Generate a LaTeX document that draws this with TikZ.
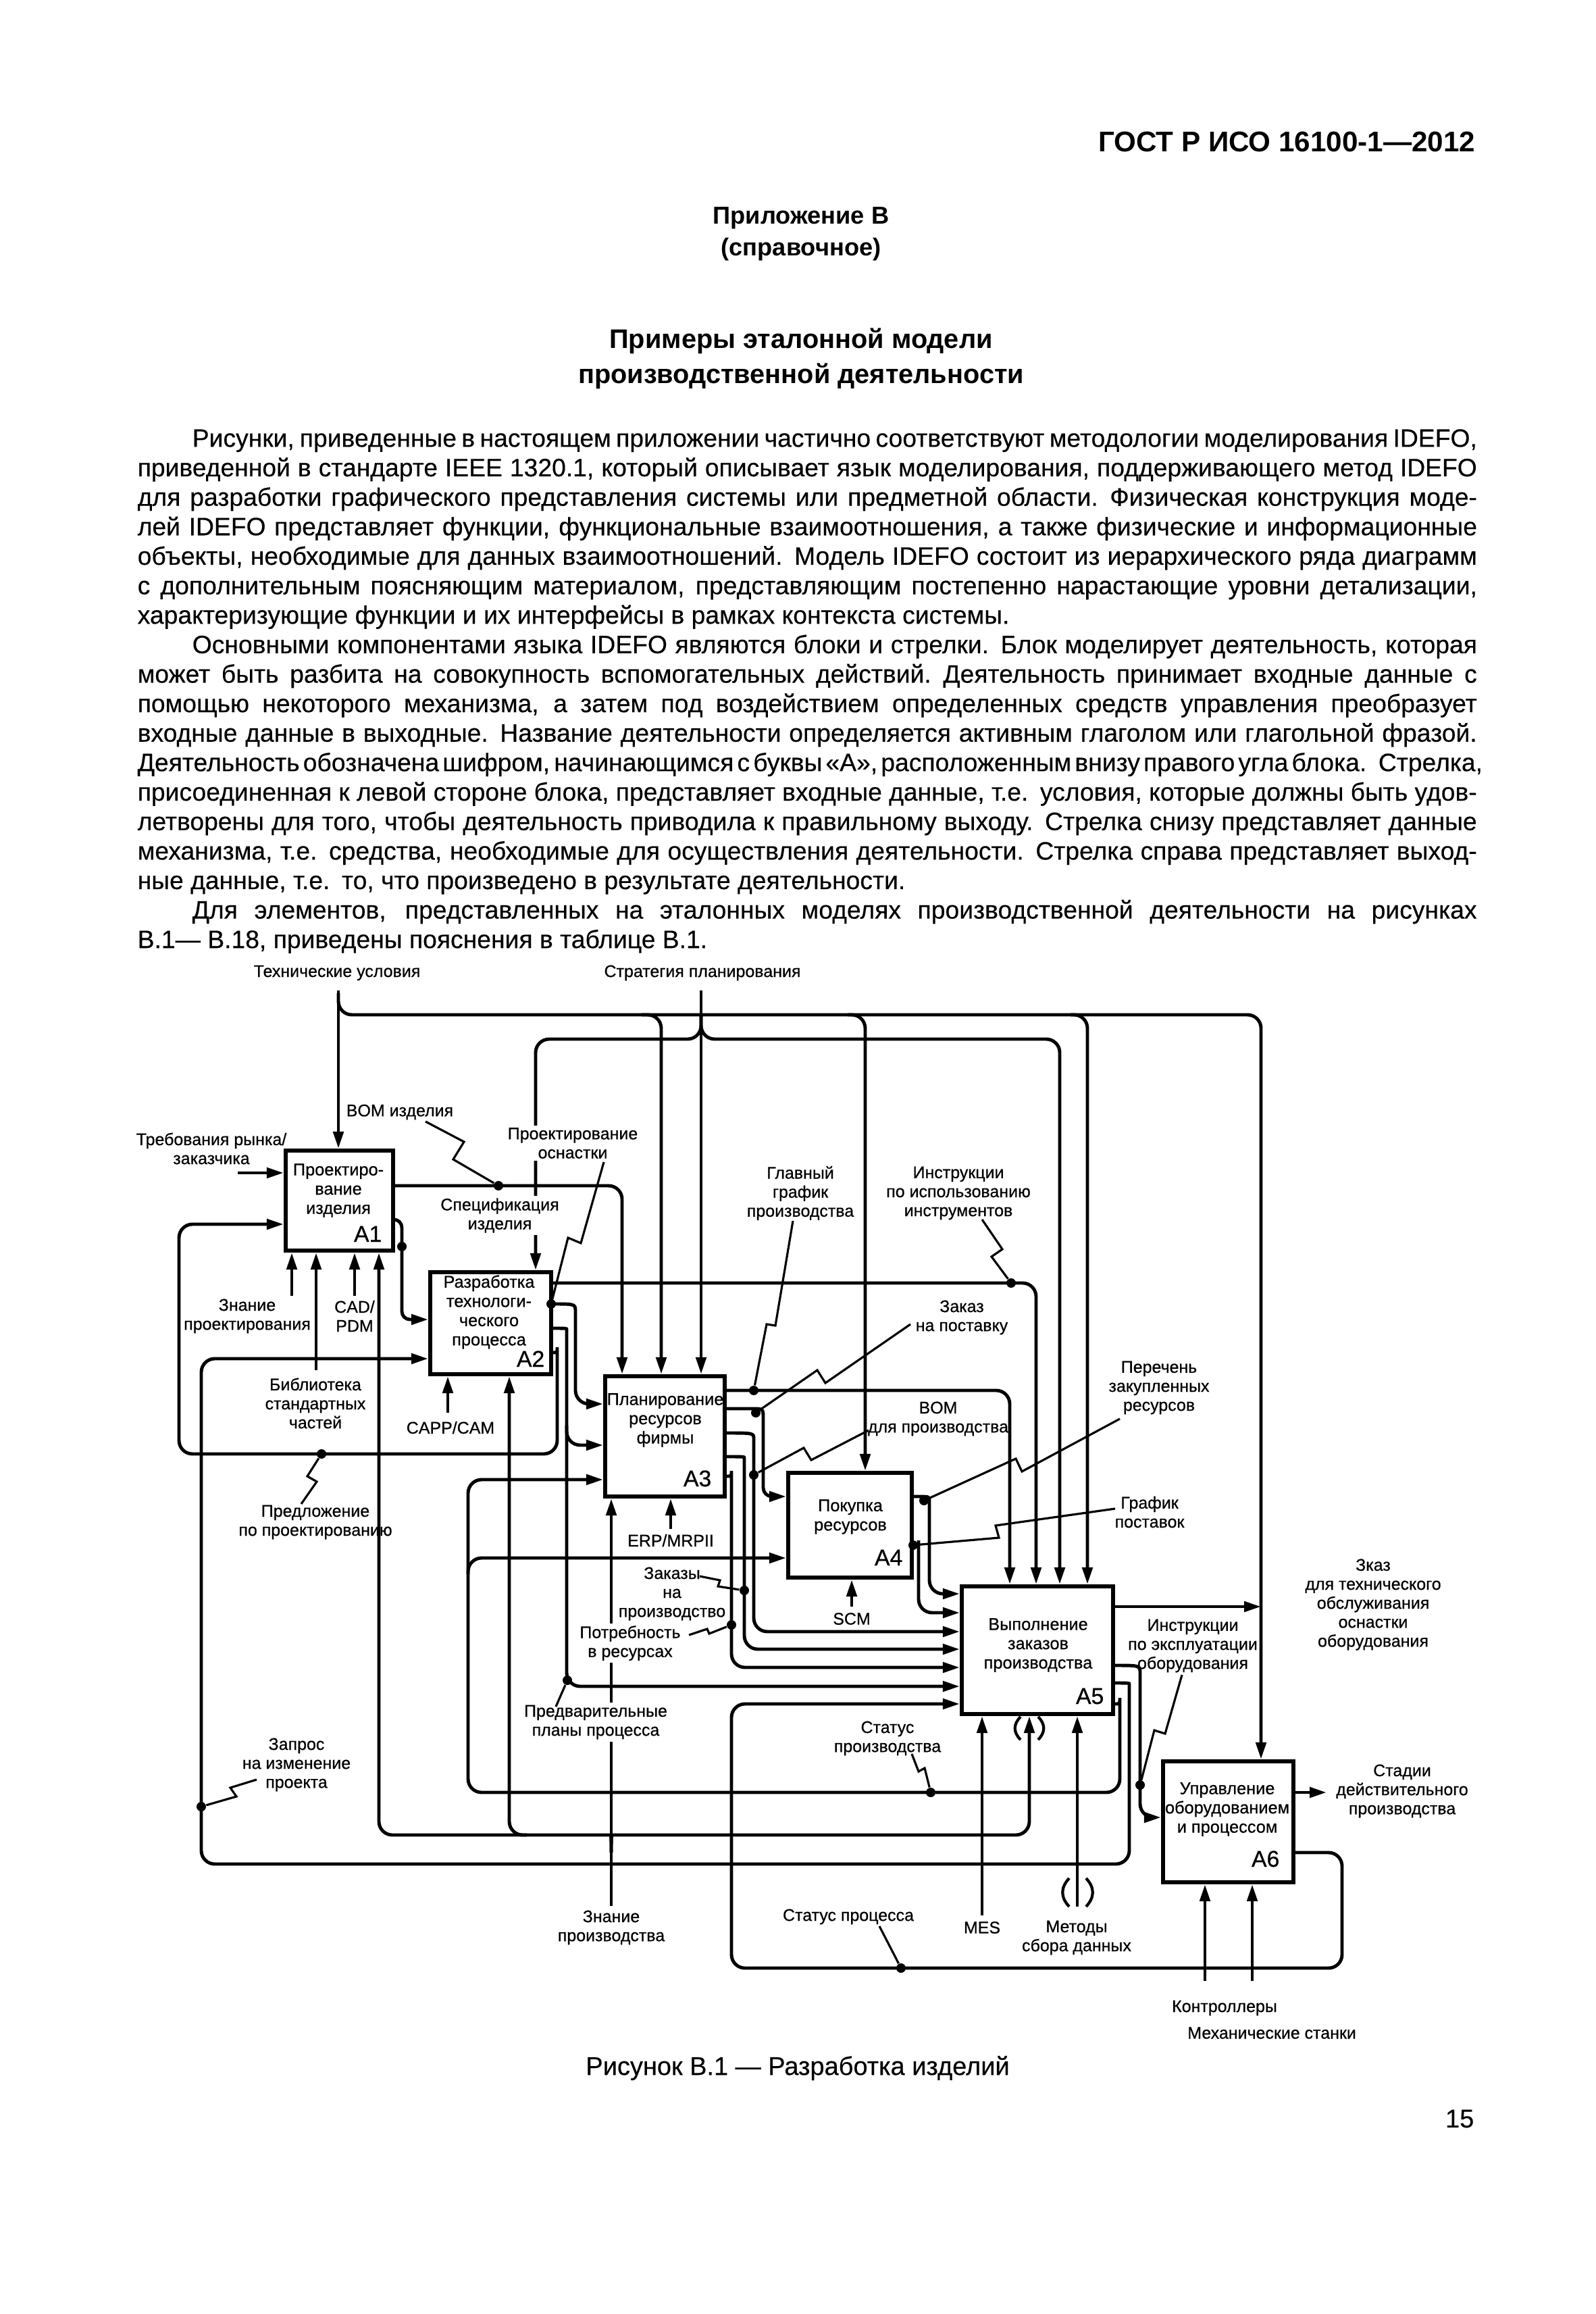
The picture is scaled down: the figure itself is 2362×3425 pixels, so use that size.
\documentclass[tikz,border=0pt]{standalone}
\usepackage{fontspec}
\setmainfont{Liberation Sans}
\newfontfamily\dgfont{Liberation Sans}[FakeBold=0.6]
\newfontfamily\bodyfont{Liberation Sans}[FakeBold=0.35]
\usetikzlibrary{arrows.meta}
\newcommand{\bodyline}[1]{\hbox to \hsize{#1}}
\newcommand{\bodylast}[1]{\hbox to \hsize{#1\hfil}}
\newcommand{\pind}{\hspace*{0.81cm}}
\begin{document}
\begin{tikzpicture}[x=0.01cm,y=-0.01cm,
  ln/.style={line width=1.4pt, rounded corners=0.2cm},
  arr/.style={ln, -{Triangle[length=0.25cm,width=0.15cm]}},
  zz/.style={line width=0.9pt},
  par/.style={line width=1.2pt},
  fbox/.style={draw, line width=1.7pt, inner sep=0pt},
  lbl/.style={font=\dgfont\fontsize{7.1}{8}\selectfont, align=center, inner sep=1pt},
  wlbl/.style={lbl, fill=white},
  btxt/.style={font=\dgfont\fontsize{7.2}{8.1}\selectfont, align=center, inner sep=0pt},
  num/.style={font=\dgfont\fontsize{9.6}{10}\selectfont, anchor=base east, inner sep=0pt},
  jd/.style={circle, fill, inner sep=0pt, minimum size=0.14cm}]
\path[use as bounding box, fill=white] (0,0) rectangle (2362,3425);

% ---------- page text ----------
\node[font=\bfseries\fontsize{12}{14}\selectfont, anchor=east, inner sep=0pt] (hdr) at (2185,210) {ГОСТ Р ИСО 16100-1—2012};
\node[font=\bfseries\fontsize{10.3}{12}\selectfont, inner sep=0pt] (app) at (1186,323) {Приложение В};
\node[font=\bfseries\fontsize{10.3}{12}\selectfont, inner sep=0pt] (ref) at (1186,369) {(справочное)};
\node[font=\bfseries\fontsize{11.3}{14}\selectfont, inner sep=0pt] (tt1) at (1186,505) {Примеры эталонной модели};
\node[font=\bfseries\fontsize{11.3}{14}\selectfont, inner sep=0pt] (tt2) at (1186,557) {производственной деятельности};

\node[anchor=north west, inner sep=0pt, text width=19.82cm] (body) at (203,617) {%
\bodyfont\fontsize{10.6}{12.41}\selectfont\baselineskip=12.41pt\lineskiplimit=-20pt
\spaceskip=0.278em plus 0.5em minus 0.14em\par
\bodyline{\pind Рисунки, приведенные в настоящем приложении частично соответствуют методологии моделирования IDEFO,}
\bodyline{приведенной в стандарте IEEE 1320.1, который описывает язык моделирования, поддерживающего метод IDEFO}
\bodyline{для разработки графического представления системы или предметной области. Физическая конструкция моде-}
\bodyline{лей IDEFO представляет функции, функциональные взаимоотношения, а также физические и информационные}
\bodyline{объекты, необходимые для данных взаимоотношений. Модель IDEFO состоит из иерархического ряда диаграмм}
\bodyline{с дополнительным поясняющим материалом, представляющим постепенно нарастающие уровни детализации,}
\bodylast{характеризующие функции и их интерфейсы в рамках контекста системы.}
\bodyline{\pind Основными компонентами языка IDEFO являются блоки и стрелки. Блок моделирует деятельность, которая}
\bodyline{может быть разбита на совокупность вспомогательных действий. Деятельность принимает входные данные с}
\bodyline{помощью некоторого механизма, а затем под воздействием определенных средств управления преобразует}
\bodyline{входные данные в выходные. Название деятельности определяется активным глаголом или глагольной фразой.}
\bodyline{Деятельность обозначена шифром, начинающимся с буквы «А», расположенным внизу правого угла блока. Стрелка,}
\bodyline{присоединенная к левой стороне блока, представляет входные данные, т.е. условия, которые должны быть удов-}
\bodyline{летворены для того, чтобы деятельность приводила к правильному выходу. Стрелка снизу представляет данные}
\bodyline{механизма, т.е. средства, необходимые для осуществления деятельности. Стрелка справа представляет выход-}
\bodylast{ные данные, т.е. то, что произведено в результате деятельности.}
\bodyline{\pind Для элементов, представленных на эталонных моделях производственной деятельности на рисунках}
\bodylast{В.1— В.18, приведены пояснения в таблице В.1.}\par
};

\node[font=\bodyfont\fontsize{10.8}{12}\selectfont, inner sep=0pt] (cap) at (1181,3061) {Рисунок В.1 — Разработка изделий};
\node[font=\bodyfont\fontsize{10.8}{12}\selectfont, anchor=east, inner sep=0pt] (pg) at (2183,3136) {15};

% ---------- boxes ----------
\node[fbox, minimum width=1.59cm, minimum height=1.48cm] (A1) at (502.5,1777) {};
\node[fbox, minimum width=1.79cm, minimum height=1.51cm] (A2) at (726.5,1958.5) {};
\node[fbox, minimum width=1.77cm, minimum height=1.78cm] (A3) at (984.5,2126) {};
\node[fbox, minimum width=1.83cm, minimum height=1.55cm] (A4) at (1258.5,2257.5) {};
\node[fbox, minimum width=2.24cm, minimum height=1.89cm] (A5) at (1536,2442.5) {};
\node[fbox, minimum width=1.93cm, minimum height=1.79cm] (A6) at (1818.5,2696.5) {};

\node[btxt] (A1t) at (501,1762) {Проектиро-\\вание\\изделия};
\node[btxt] (A2t) at (724,1942) {Разработка\\технологи-\\ческого\\процесса};
\node[btxt] (A3t) at (985,2102) {Планирование\\ресурсов\\фирмы};
\node[btxt] (A4t) at (1259,2245) {Покупка\\ресурсов};
\node[btxt] (A5t) at (1537,2435) {Выполнение\\заказов\\производства};
\node[btxt] (A6t) at (1817,2678) {Управление\\оборудованием\\и процессом};
\node[num] (A1n) at (566,1838) {A1};
\node[num] (A2n) at (807,2023) {A2};
\node[num] (A3n) at (1054,2200) {A3};
\node[num] (A4n) at (1337,2317) {A4};
\node[num] (A5n) at (1635,2522) {A5};
\node[num] (A6n) at (1895,2763) {A6};

% ---------- controls from top ----------
\coordinate (tu) at (501,1466);
\coordinate (sp) at (1038,1466);
\draw[arr] (tu) -- (A1.north -| 501,0);
\draw[arr] (501,1470) -- (501,1502) -- (1867,1502) -- (A6.north -| 1867,0);
\draw[arr] (950,1502) -- (979,1502) -- (A3.north -| 979,0);
\draw[arr] (1255,1502) -- (1281,1502) -- (A4.north -| 1281,0);
\draw[arr] (1585,1502) -- (1610,1502) -- (A5.north -| 1610,0);
\draw[arr] (sp) -- (A3.north -| 1038,0);
\draw[arr] (1038,1500) -- (1038,1538) -- (793,1538) -- (A2.north -| 793,0);
\draw[arr] (1038,1500) -- (1038,1538) -- (1569,1538) -- (A5.north -| 1569,0);

% ---------- A1 ----------
\draw[arr] (352,1736) -- (A1.west |- 0,1736);
\draw[arr] (A1.east |- 0,1755) -- (921,1755) -- (A3.north -| 921,0);
\draw[arr, rounded corners=0.12cm] (A1.east |- 0,1805) -- (595,1805) -- (595,1953) -- (A2.west |- 0,1953);
\draw[arr] (A2.east |- 0,2002) .. controls (825,2002) .. (825,2014) -- (825,2152) -- (265,2152) -- (265,1812) -- (A1.west |- 0,1812);
\draw[arr] (432,1918) -- (A1.south -| 432,0);
\draw[arr] (468,2028) -- (A1.south -| 468,0);
\draw[arr] (525,1918) -- (A1.south -| 525,0);

% ---------- A2 ----------
\draw[arr] (A2.east |- 0,1899) -- (1534,1899) -- (A5.north -| 1534,0);
\draw[arr] (A2.east |- 0,1930) .. controls (852,1930) .. (852,1962) -- (852,2078) -- (A3.west |- 0,2078);
\draw[arr] (A2.east |- 0,1966) .. controls (839,1966) .. (839,1988) -- (839,2496) -- (A5.west |- 0,2496);
\draw[arr] (839,2110) -- (839,2139) -- (A3.west |- 0,2139);
\draw[arr] (663,2091) -- (A2.south -| 663,0);

% ---------- A3 ----------
\draw[arr] (A3.east |- 0,2058) -- (1495,2058) -- (A5.north -| 1495,0);
\draw[arr, rounded corners=0.13cm] (A3.east |- 0,2085) -- (1100,2085) .. controls (1130,2085) .. (1130,2112) -- (1130,2215) -- (A4.west |- 0,2215);
\draw[arr] (A3.east |- 0,2121) .. controls (1116,2121) .. (1116,2150) -- (1116,2415) -- (A5.west |- 0,2415);
\draw[arr] (A3.east |- 0,2156) .. controls (1102,2156) .. (1102,2178) -- (1102,2441) -- (A5.west |- 0,2441);
\draw[arr] (A3.east |- 0,2185) .. controls (1083,2185) .. (1083,2197) -- (1083,2468) -- (A5.west |- 0,2468);
\draw[arr] (993,2263) -- (A3.south -| 993,0);

% ---------- A4 ----------
\draw[arr] (A4.east |- 0,2215) .. controls (1376,2215) .. (1376,2240) -- (1376,2359) -- (A5.west |- 0,2359);
\draw[arr] (A4.east |- 0,2287) .. controls (1360,2287) .. (1360,2300) -- (1360,2387) -- (A5.west |- 0,2387);
\draw[arr] (1261,2378) -- (A4.south -| 1261,0);

% ---------- A5 ----------
\draw[arr] (A5.east |- 0,2378) -- (1867,2378);
\draw[arr] (A5.east |- 0,2465) .. controls (1688,2465) .. (1688,2497) -- (1688,2690) -- (A6.west |- 0,2690);
\draw[arr] (A5.east |- 0,2491) .. controls (1672,2491) .. (1672,2513) -- (1672,2759) -- (298,2759) -- (298,2011) -- (A2.west |- 0,2011);
\draw[arr] (A5.east |- 0,2522) .. controls (1658,2522) .. (1658,2533) -- (1658,2653) -- (693,2653) -- (693,2190) -- (A3.west |- 0,2190);
\draw[arr] (693,2330) -- (693,2306) -- (A4.west |- 0,2306);
\draw[arr] (1454,2835) -- (A5.south -| 1454,0);
\draw[arr] (1595,2822) -- (A5.south -| 1595,0);

% ---------- A6 ----------
\draw[arr] (A6.east |- 0,2653) -- (1964,2653);
\draw[arr] (A6.east |- 0,2742) -- (1987,2742) -- (1987,2913) -- (1083,2913) -- (1083,2522) -- (A5.west |- 0,2522);
\draw[arr] (1784,2932) -- (A6.south -| 1784,0);
\draw[arr] (1854,2932) -- (A6.south -| 1854,0);

% ---------- Знание производства ----------
\coordinate (zp) at (905,2821);
\draw[arr] (zp) -- (A3.south -| 905,0);
\draw[arr] (905,2742) .. controls (905,2716) .. (882,2716) -- (561,2716) -- (A1.south -| 561,0);
\draw[arr] (780,2716) -- (754,2716) -- (A2.south -| 754,0);
\draw[arr] (905,2742) .. controls (905,2716) .. (928,2716) -- (1524,2716) -- (A5.south -| 1524,0);

% tunnel brackets
\draw[par] (1511,2541) .. controls (1500,2552) and (1500,2564) .. (1511,2575);
\draw[par] (1537,2541) .. controls (1548,2552) and (1548,2564) .. (1537,2575);
\draw[par] (1583,2780) .. controls (1570,2794) and (1570,2808) .. (1583,2822);
\draw[par] (1608,2780) .. controls (1621,2794) and (1621,2808) .. (1608,2822);

% ---------- junction dots ----------
\node[jd] (d1) at (738,1755) {};
\node[jd] (d2) at (595,1845) {};
\node[jd] (d3) at (816,1930) {};
\node[jd] (d4) at (1497,1899) {};
\node[jd] (d5) at (476,2152) {};
\node[jd] (d6) at (1116,2058) {};
\node[jd] (d7) at (1119,2091) {};
\node[jd] (d8) at (1116,2183) {};
\node[jd] (d9) at (1102,2354) {};
\node[jd] (d10) at (1083,2405) {};
\node[jd] (d11) at (840,2487) {};
\node[jd] (d12) at (1368,2221) {};
\node[jd] (d13) at (1352,2287) {};
\node[jd] (d14) at (1378,2653) {};
\node[jd] (d15) at (1688,2642) {};
\node[jd] (d16) at (298,2674) {};
\node[jd] (d17) at (1334,2913) {};

% ---------- labels ----------
\node[lbl] (l1) at (499,1440) {Технические условия};
\node[lbl] (l2) at (1040,1440) {Стратегия планирования};
\node[lbl] (l3) at (592,1646) {BOM изделия};
\node[lbl] (l4) at (313,1700) {Требования рынка/\\заказчика};
\node[wlbl] (l5) at (848,1692) {Проектирование\\оснастки};
\node[wlbl] (l6) at (740,1799) {Спецификация\\изделия};
\node[lbl] (l7) at (366,1948) {Знание\\проектирования};
\node[lbl] (l8) at (525,1948) {CAD/\\PDM};
\node[lbl] (l9) at (467,2077) {Библиотека\\стандартных\\частей};
\node[lbl] (l10) at (667,2113) {CAPP/CAM};
\node[lbl] (l11) at (467,2253) {Предложение\\по проектированию};
\node[lbl] (l12) at (1185,1766) {Главный\\график\\производства};
\node[lbl] (l13) at (1419,1766) {Инструкции\\по использованию\\инструментов};
\node[lbl] (l14) at (1424,1950) {Заказ\\на поставку};
\node[lbl] (l15) at (993,2280) {ERP/MRPII};
\node[lbl] (l16) at (1389,2100) {BOM\\для производства};
\node[lbl] (l17) at (1716,2054) {Перечень\\закупленных\\ресурсов};
\node[lbl] (l18) at (1702,2238) {График\\поставок};
\node[lbl] (l19) at (1261,2396) {SCM};
\node[lbl] (l20) at (995,2359) {Заказы\\на\\производство};
\node[wlbl] (l21) at (933,2432) {Потребность\\в ресурсах};
\node[wlbl] (l22) at (882,2549) {Предварительные\\планы процесса};
\node[lbl] (l23) at (1314,2573) {Статус\\производства};
\node[lbl] (l24) at (1766,2436) {Инструкции\\по эксплуатации\\оборудования};
\node[lbl] (l25) at (2033,2375) {Зказ\\для технического\\обслуживания\\оснастки\\оборудования};
\node[lbl] (l26) at (439,2612) {Запрос\\на изменение\\проекта};
\node[lbl] (l27) at (2076,2651) {Стадии\\действительного\\производства};
\node[lbl] (l28) at (905,2853) {Знание\\производства};
\node[lbl] (l29) at (1256,2837) {Статус процесса};
\node[lbl] (l30) at (1454,2853) {MES};
\node[lbl] (l31) at (1594,2868) {Методы\\сбора данных};
\node[lbl] (l32) at (1813,2972) {Контроллеры};
\node[lbl] (l33) at (1883,3009) {Механические станки};

% ---------- label leaders ----------
\draw[zz] (630,1660) -- (687,1690) -- (671,1716) -- (d1);
\draw[zz] (894,1720) -- (860,1840) -- (841,1832) -- (d3);
\draw[zz] (1174,1807) -- (1148,1962) -- (1135,1960) -- (d6);
\draw[zz] (1454,1805) -- (1484,1849) -- (1468,1860) -- (d4);
\draw[zz] (1348,1960) -- (1222,2047) -- (1210,2028) -- (d7);
\draw[zz] (1286,2117) -- (1201,2161) -- (1190,2143) -- (d8);
\draw[zz] (1658,2100) -- (1513,2178) -- (1504,2159) -- (d12);
\draw[zz] (1651,2233) -- (1474,2258) -- (1479,2276) -- (d13);
\draw[zz] (1036,2333) -- (1066,2339) -- (1063,2348) -- (d9);
\draw[zz] (1020,2420) -- (1047,2411) -- (1050,2418) -- (d10);
\draw[zz] (823,2526) -- (d11);
\draw[zz] (1350,2596) -- (1360,2622) -- (1369,2617) -- (d14);
\draw[zz] (1750,2479) -- (1725,2566) -- (1709,2561) -- (d15);
\draw[zz] (1302,2851) -- (d17);
\draw[zz] (380,2634) -- (341,2646) -- (350,2659) -- (d16);
\draw[zz] (d5) -- (455,2185) -- (469,2193) -- (446,2226);
\end{tikzpicture}
\end{document}
